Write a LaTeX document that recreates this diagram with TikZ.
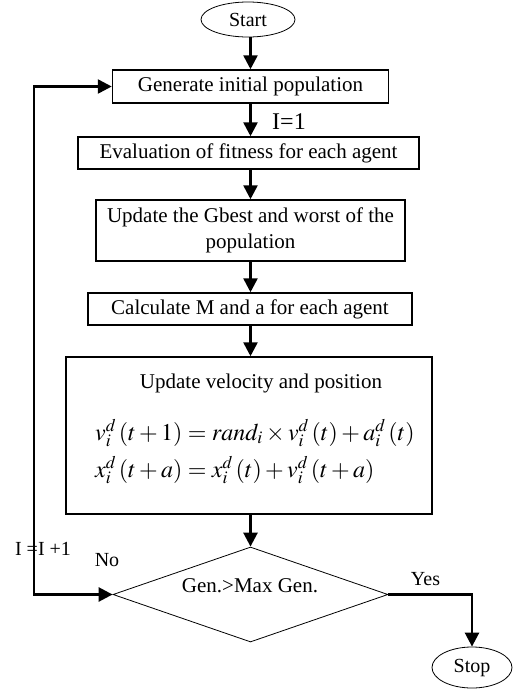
\documentclass[tikz,border=0pt]{standalone}
\usepackage{mathptmx}
\usepackage[no-math]{fontspec}
\setmainfont{Liberation Serif}
\usetikzlibrary{arrows.meta,shapes.geometric}
\begin{document}
\begin{tikzpicture}[x=1pt,y=-1pt,
  box/.style={draw,line width=1.5pt,inner sep=0pt,font=\fontsize{21}{26}\selectfont,align=center},
  term/.style={draw,ellipse,line width=0.8pt,inner sep=0pt,font=\fontsize{20}{24}\selectfont},
  arr/.style={line width=2.6pt,-{Triangle[length=14pt,width=14pt]}},
  lbl/.style={font=\fontsize{20}{24}\selectfont,inner sep=0pt},
  eqn/.style={font=\fontsize{24}{28}\selectfont,inner sep=0pt,anchor=base west}]
\useasboundingbox (0,0) rectangle (518,689);
\node[term,minimum width=94pt,minimum height=35pt] (start) at (248,19.5) {Start};
\node[box,minimum width=276pt,minimum height=33pt] (gen) at (250.5,86.5) {Generate initial population};
\node[box,minimum width=341pt,minimum height=32pt] (eval) at (248.5,153) {Evaluation of fitness for each agent};
\node[box,minimum width=309pt,minimum height=61pt] (gbest) at (250.5,230.5) {Update the Gbest and worst of the\\population};
\node[box,minimum width=324pt,minimum height=32pt] (calc) at (250,309) {Calculate M and a for each agent};
\node[box,minimum width=366pt,minimum height=157pt] (upd) at (249,435.5) {};
\node[lbl,font=\fontsize{21}{26}\selectfont] (updt) at (261,383) {Update velocity and position};
\node[eqn] (eq1) at (95,440) {$v_i^d\,(t+1) = rand_i \times v_i^d\,(t) + a_i^d\,(t)$};
\node[eqn] (eq2) at (95,477) {$x_i^d\,(t+a) = x_i^d\,(t) + v_i^d\,(t+a)$};
\node[draw,diamond,aspect=2.9,minimum width=275pt,minimum height=95pt,inner sep=0pt,line width=0.8pt] (dec) at (250.5,594.5) {};
\node[lbl,font=\fontsize{21}{26}\selectfont] (dect) at (250,586) {Gen.>Max Gen.};
\node[term,minimum width=80pt,minimum height=41pt] (stop) at (472,667.5) {Stop};
\coordinate (lp) at (34,594.5);
% labels
\node[lbl,font=\fontsize{24}{28}\selectfont,anchor=base] (i1) at (289,129) {I=1};
\node[lbl,anchor=base] (iinc) at (43,555) {I =I +1};
\node[lbl,anchor=base] (no) at (107,566) {No};
\node[lbl,anchor=base] (yes) at (425.5,585) {Yes};
% connectors
\draw[arr] (start.south -| gen.north) -- (gen.north);
\draw[arr] (gen.south) -- (gen.south |- eval.north);
\draw[arr] (gen.south |- eval.south) -- (gen.south |- gbest.north);
\draw[arr] (gen.south |- gbest.south) -- (gen.south |- calc.north);
\draw[arr] (gen.south |- calc.south) -- (gen.south |- upd.north);
\draw[arr] (gen.south |- upd.south) -- (dec.north);
\draw[arr,line cap=rect] (lp) -- (dec.west);
\draw[arr,line cap=rect] (lp) |- (gen.west);
\draw[arr] (dec.east) -| (stop.north);
\end{tikzpicture}
\end{document}
